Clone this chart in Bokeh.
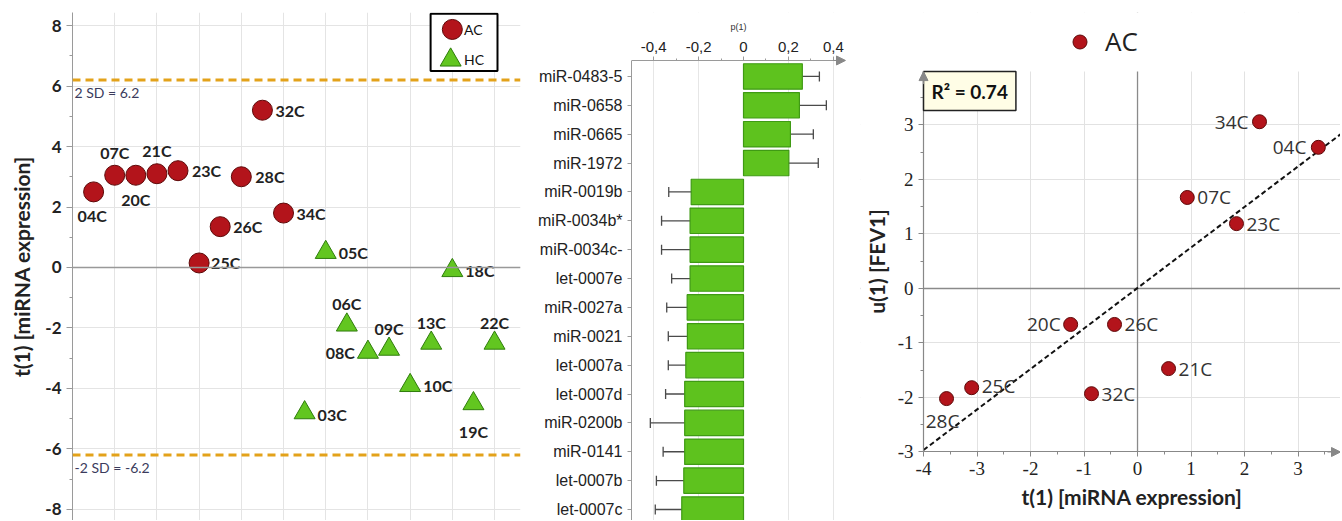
import numpy as np
from bokeh.plotting import figure
from bokeh.layouts import row
from bokeh.models import (Range1d, Span, Label, Legend, LegendItem, ColumnDataSource, BoxAnnotation,
                          FixedTicker, Whisker, TeeHead, Arrow, NormalHead, CustomJSTickFormatter)
from bokeh.core.properties import value
from bokeh.embed import file_html
from bokeh.resources import INLINE

# ---------------- data ----------------
# Panel 1: PLS-DA scores t(1) per observation (in plotted order)
obs_ids = ["04C", "07C", "20C", "21C", "23C", "25C", "26C", "28C", "32C", "34C",
           "03C", "05C", "06C", "08C", "09C", "10C", "13C", "18C", "19C", "22C"]
obs_class = ["AC"] * 10 + ["HC"] * 10
obs_t1 = [2.5, 3.05, 3.05, 3.1, 3.2, 0.15, 1.35, 3.0, 5.2, 1.8,
          -4.8, 0.5, -1.9, -2.8, -2.7, -3.9, -2.5, -0.1, -4.5, -2.5]
sd2 = 6.2

# Panel 2: loadings p(1) with confidence intervals (top to bottom)
mirna_names = ["miR-0483-5", "miR-0658", "miR-0665", "miR-1972", "miR-0019b", "miR-0034b*",
               "miR-0034c-", "let-0007e", "miR-0027a", "miR-0021", "let-0007a", "let-0007d",
               "miR-0200b", "miR-0141", "let-0007b", "let-0007c"]
mirna_p1 = [0.262, 0.249, 0.209, 0.202, -0.233, -0.238, -0.238, -0.238, -0.251, -0.250,
            -0.257, -0.262, -0.262, -0.262, -0.266, -0.275]
mirna_ci = [0.076, 0.120, 0.102, 0.131, 0.100, 0.127, 0.127, 0.082, 0.091, 0.085,
            0.078, 0.085, 0.153, 0.096, 0.122, 0.118]

# Panel 3: AC patients, t(1) vs u(1)
ac_ids = ["34C", "04C", "07C", "23C", "20C", "26C", "21C", "32C", "25C", "28C"]
ac_t1 = [2.28, 3.38, 0.93, 1.85, -1.25, -0.43, 0.58, -0.86, -3.10, -3.57]
ac_u1 = [3.06, 2.59, 1.67, 1.19, -0.66, -0.66, -1.47, -1.93, -1.82, -2.02]
r2_text = "R\u00b2 = 0.74"

# ---------------- styles ----------------
RED, RED_LINE = "#b3141b", "#5e0808"
GREEN, GREEN_LINE = "#62c620", "#2f7d0c"
GRID, AXIS = "#e4e4e4", "#9a9a9a"
SANS = "Lato"
H = 520
HYPHEN_FMT = "return String(tick);"

# ================= Panel 1 =================
p1 = figure(width=522, height=H, x_range=Range1d(0, 21.23), y_range=Range1d(-8.364, 8.43),
            x_axis_location=None, toolbar_location=None, output_backend="svg",
            min_border_left=72, min_border_right=2, min_border_top=12, min_border_bottom=0)
p1.outline_line_color = None
p1.xgrid.ticker = FixedTicker(ticks=list(range(2, 21, 2)))
p1.ygrid.ticker = FixedTicker(ticks=list(range(-8, 9, 2)))
p1.xgrid.grid_line_color = GRID
p1.ygrid.grid_line_color = GRID
p1.yaxis.ticker = FixedTicker(ticks=list(range(-8, 9, 2)), minor_ticks=list(range(-7, 8, 2)))
p1.yaxis.formatter = CustomJSTickFormatter(code=HYPHEN_FMT)
p1.yaxis.axis_line_color = AXIS
p1.yaxis.major_tick_line_color = AXIS
p1.yaxis.minor_tick_line_color = AXIS
p1.yaxis.major_tick_out = 6
p1.yaxis.major_tick_in = 0
p1.yaxis.minor_tick_out = 3
p1.yaxis.minor_tick_in = 0
p1.yaxis.major_label_text_font = SANS
p1.yaxis.major_label_text_font_style = "bold"
p1.yaxis.major_label_text_font_size = "17px"
p1.yaxis.major_label_text_color = "#222222"
p1.yaxis.axis_label = "t(1) [miRNA expression]"
p1.yaxis.axis_label_text_font = SANS
p1.yaxis.axis_label_text_font_style = "bold"
p1.yaxis.axis_label_text_font_size = "21px"
p1.yaxis.axis_label_text_color = "#222222"
p1.yaxis.axis_label_standoff = 8

p1.add_layout(Span(location=0, dimension="width", line_color="#999999", line_width=1.5))
for lv in (sd2, -sd2):
    p1.add_layout(Span(location=lv, dimension="width", line_color="#e3a21a",
                       line_width=3, line_dash="8 5"))
p1.add_layout(Label(x=0, y=sd2, text="2 SD = %.1f" % sd2, x_offset=2, y_offset=-4,
                    text_baseline="top", text_font=SANS, text_font_size="14px",
                    text_color="#3b3b5c"))
p1.add_layout(Label(x=0, y=-sd2, text="-2 SD = %.1f" % -sd2, x_offset=2, y_offset=-4,
                    text_baseline="top", text_font=SANS, text_font_size="14px",
                    text_color="#3b3b5c"))

obs_x = np.arange(1, len(obs_ids) + 1)
lab1 = {"04C": (-16, 24, "left"), "07C": (0, -23, "center"), "20C": (0, 24, "center"),
        "21C": (0, -23, "center"), "23C": (14, 0, "left"), "25C": (12, 0, "left"),
        "26C": (13, 0, "left"), "28C": (14, 0, "left"), "32C": (13, 0, "left"),
        "34C": (13, 0, "left"), "03C": (13, 2, "left"), "05C": (13, 0, "left"),
        "06C": (0, -21, "center"), "08C": (-13, 0, "right"), "09C": (0, -21, "center"),
        "10C": (13, 0, "left"), "13C": (0, -21, "center"), "18C": (13, 0, "left"),
        "19C": (0, 28, "center"), "22C": (0, -21, "center")}
src1 = ColumnDataSource(dict(
    x=obs_x, y=obs_t1, id=obs_ids, cls=obs_class,
    dx=[lab1[i][0] for i in obs_ids], dy=[lab1[i][1] for i in obs_ids],
    al=[lab1[i][2] for i in obs_ids]))
ac_mask = np.array([c == "AC" for c in obs_class])
hc_mask = np.array([c == "HC" for c in obs_class])
src1_ac = ColumnDataSource(dict(x=obs_x[ac_mask], y=np.array(obs_t1)[ac_mask]))
src1_hc = ColumnDataSource(dict(x=obs_x[hc_mask], y=np.array(obs_t1)[hc_mask]))
p1.scatter("x", "y", source=src1_ac, marker="circle", size=20, fill_color=RED,
           line_color=RED_LINE, line_width=1)
p1.scatter("x", "y", source=src1_hc, marker="triangle", size=21, fill_color=GREEN,
           line_color=GREEN_LINE, line_width=1)
p1.text("x", "y", text="id", source=src1, x_offset="dx", y_offset="dy", text_align="al",
        text_baseline="middle", text_font=value(SANS), text_font_style="bold",
        text_font_size="16px", text_color="#222222")

# legend box (panel 1)
p1.quad(left=[16.97], right=[20.14], bottom=[6.50], top=[8.39], fill_color="white",
        line_color="black", line_width=2)
p1.scatter([18.0], [7.87], marker="circle", size=20, fill_color=RED, line_color=RED_LINE)
p1.scatter([17.92], [6.86], marker="triangle", size=21, fill_color=GREEN, line_color=GREEN_LINE)
p1.text([18.55, 18.55], [7.87, 6.86], text=["AC", "HC"], text_baseline="middle",
        text_font=value(SANS), text_font_size="14px", text_color="#111111")

# ================= Panel 2 =================
n2 = len(mirna_names)
pos2 = np.arange(n2)[::-1]              # first name at the top
names_by_pos = mirna_names[::-1]
AX2 = n2 - 1 + 0.554                    # level of the p(1) axis above the first bar
p2 = figure(width=336, height=H, x_range=Range1d(-0.4989, 0.4543), y_range=Range1d(-0.381, 17.215),
            x_axis_location="above", toolbar_location=None, output_backend="svg",
            min_border_left=109, min_border_right=13, min_border_top=12, min_border_bottom=0)
p2.outline_line_color = None
v2 = np.array(mirna_p1)
e2 = np.array(mirna_ci)
src2 = ColumnDataSource(dict(y=pos2, v=v2, lo=v2 - e2, hi=v2 + e2))
p2.xgrid.ticker = FixedTicker(ticks=[-0.4, -0.2, 0.2, 0.4])
p2.xgrid.grid_line_color = "#e6e6e6"
p2.ygrid.grid_line_color = None
p2.add_layout(BoxAnnotation(bottom=AX2, fill_color="white", fill_alpha=1, line_color=None,
                            level="underlay"))
p2.hbar(y="y", left=0, right="v", height=0.88, source=src2, fill_color="#5ec21e",
        line_color="#3f9a14", line_width=1.2)
whisk = Whisker(source=src2, base="y", lower="lo", upper="hi", dimension="width",
                line_color="#4a4a4a", line_width=1.3,
                upper_head=TeeHead(size=10, line_color="#4a4a4a", line_width=1.3),
                lower_head=TeeHead(size=10, line_color="#4a4a4a", line_width=1.3))
p2.add_layout(whisk)
p2.xaxis.fixed_location = AX2
p2.xaxis.ticker = FixedTicker(ticks=[-0.4, -0.2, 0, 0.2, 0.4], minor_ticks=[-0.3, -0.1, 0.1, 0.3])
p2.xaxis.formatter = CustomJSTickFormatter(
    code="return Math.abs(tick) < 1e-9 ? '0' : tick.toFixed(1).replace('.', ',');")
p2.xaxis.axis_label = "p(1)"
p2.xaxis.axis_label_text_font_size = "9px"
p2.xaxis.axis_label_text_font_style = "normal"
p2.xaxis.axis_label_text_color = "#333333"
p2.xaxis.axis_label_standoff = 8
p2.xaxis.major_label_text_font = "Liberation Sans"
p2.xaxis.major_label_text_font_size = "15px"
p2.xaxis.major_label_text_color = "#222222"
p2.xaxis.major_label_standoff = 4
p2.yaxis.ticker = FixedTicker(ticks=list(range(n2)))
p2.yaxis.bounds = (-0.381, AX2)
p2.yaxis.formatter = CustomJSTickFormatter(args=dict(names=names_by_pos),
                                           code="return names[Math.round(tick)] || '';")
p2.yaxis.major_label_text_font = "Liberation Sans"
p2.yaxis.major_label_text_font_size = "16px"
p2.yaxis.major_label_text_color = "#222222"
for ax in (p2.xaxis, p2.yaxis):
    ax.axis_line_color = AXIS
    ax.major_tick_line_color = AXIS
    ax.minor_tick_line_color = AXIS
    ax.major_tick_out = 4
    ax.major_tick_in = 0
    ax.minor_tick_out = 2
    ax.minor_tick_in = 0
p2.yaxis.minor_tick_line_color = None
p2.add_layout(Arrow(end=NormalHead(size=9, fill_color="#888888", line_color="#888888"),
                    x_start=0.40, y_start=AX2, x_end=0.4543, y_end=AX2,
                    line_color="#888888", line_width=1))

# ================= Panel 3 =================
U_TOP, U_BOT = 3.98, -3.0
T_LEFT, T_RIGHT = -4.0, 3.794
p3 = figure(width=482, height=H, x_range=Range1d(-5.178, T_RIGHT), y_range=Range1d(-4.257, 5.064),
            toolbar_location=None, output_backend="svg",
            min_border_left=2, min_border_right=0, min_border_top=12, min_border_bottom=0)
p3.outline_line_color = None
p3.xgrid.ticker = FixedTicker(ticks=list(range(-4, 4)))
p3.ygrid.ticker = FixedTicker(ticks=list(range(-3, 4)))
p3.xgrid.grid_line_color = "#e2e2e2"
p3.ygrid.grid_line_color = "#e2e2e2"
p3.add_layout(Span(location=0, dimension="width", line_color="#8a8a8a", line_width=1.3,
                   level="underlay"))
p3.add_layout(Span(location=0, dimension="height", line_color="#8a8a8a", line_width=1.3,
                   level="underlay"))
p3.add_layout(BoxAnnotation(bottom=U_TOP, fill_color="white", fill_alpha=1, line_color=None,
                            level="underlay"))
p3.add_layout(BoxAnnotation(top=U_BOT, fill_color="white", fill_alpha=1, line_color=None,
                            level="underlay"))
p3.add_layout(BoxAnnotation(right=T_LEFT, fill_color="white", fill_alpha=1, line_color=None,
                            level="underlay"))
p3.xaxis.fixed_location = U_BOT
p3.yaxis.fixed_location = T_LEFT
p3.xaxis.bounds = (T_LEFT, T_RIGHT)
p3.yaxis.bounds = (U_BOT, U_TOP)
p3.xaxis.ticker = FixedTicker(ticks=list(range(-4, 4)), minor_ticks=[x + 0.5 for x in range(-4, 4)])
p3.yaxis.ticker = FixedTicker(ticks=list(range(-3, 4)), minor_ticks=[y + 0.5 for y in range(-3, 4)])
for ax in (p3.xaxis, p3.yaxis):
    ax.formatter = CustomJSTickFormatter(code=HYPHEN_FMT)
    ax.axis_line_color = "#888888"
    ax.axis_line_width = 1.2
    ax.major_tick_line_color = "#888888"
    ax.minor_tick_line_color = "#888888"
    ax.major_tick_out = 5
    ax.major_tick_in = 0
    ax.minor_tick_out = 3
    ax.minor_tick_in = 0
    ax.major_label_text_font = "Liberation Serif"
    ax.major_label_text_font_size = "19px"
    ax.major_label_text_color = "#222222"
    ax.axis_label_text_font = SANS
    ax.axis_label_text_font_style = "bold"
    ax.axis_label_text_font_size = "21px"
    ax.axis_label_text_color = "#222222"
    ax.axis_label_standoff = 6
p3.xaxis.axis_label = "t(1) [miRNA expression]"
p3.yaxis.axis_label = "u(1) [FEV1]"

slope, intercept = np.polyfit(ac_t1, ac_u1, 1)
xs = np.array([T_LEFT, T_RIGHT])
p3.line(xs, slope * xs + intercept, line_color="#111111", line_width=2, line_dash="5 3")

lab3 = {"34C": (-11, 0, "right"), "04C": (-12, 0, "right"), "07C": (10, 0, "left"),
        "23C": (10, 0, "left"), "20C": (-10, 0, "right"), "26C": (10, 0, "left"),
        "21C": (10, 0, "left"), "32C": (10, 0, "left"), "25C": (10, -2, "left"),
        "28C": (-4, 22, "center")}
src3 = ColumnDataSource(dict(x=ac_t1, y=ac_u1, id=ac_ids,
                             dx=[lab3[i][0] for i in ac_ids], dy=[lab3[i][1] for i in ac_ids],
                             al=[lab3[i][2] for i in ac_ids]))
r3 = p3.scatter("x", "y", source=src3, marker="circle", size=14, fill_color=RED,
                line_color=RED_LINE, line_width=1)
p3.text("x", "y", text="id", source=src3, x_offset="dx", y_offset="dy", text_align="al",
        text_baseline="middle", text_font=value("Open Sans"), text_font_size="19px",
        text_color="#333333")

p3.add_layout(Label(x=T_LEFT, y=U_TOP, text=r2_text, text_baseline="top", text_align="left",
                    text_font=SANS, text_font_style="bold", text_font_size="19px",
                    text_color="#111111", background_fill_color="#fffde6",
                    border_line_color="#222222", border_line_width=1.5, padding=8))
p3.add_layout(Arrow(end=NormalHead(size=9, fill_color="#888888", line_color="#888888"),
                    x_start=3.55, y_start=U_BOT, x_end=T_RIGHT, y_end=U_BOT, line_color="#888888"))
p3.add_layout(Arrow(end=NormalHead(size=9, fill_color="#888888", line_color="#888888"),
                    x_start=T_LEFT, y_start=3.75, x_end=T_LEFT, y_end=U_TOP, line_color="#888888"))

# legend above the plot area: frame now starts at page x 860
leg3 = Legend(items=[LegendItem(label="AC", renderers=[r3])], location=(202, 461),
              glyph_width=35, glyph_height=35, padding=0, margin=0, spacing=0,
              border_line_color=None, background_fill_alpha=0, label_standoff=8,
              label_text_font="Open Sans", label_text_font_size="26px",
              label_text_color="#222222")
p3.add_layout(leg3)

layout = row(p1, p2, p3)
open("out.html", "w").write(file_html(layout, INLINE))
